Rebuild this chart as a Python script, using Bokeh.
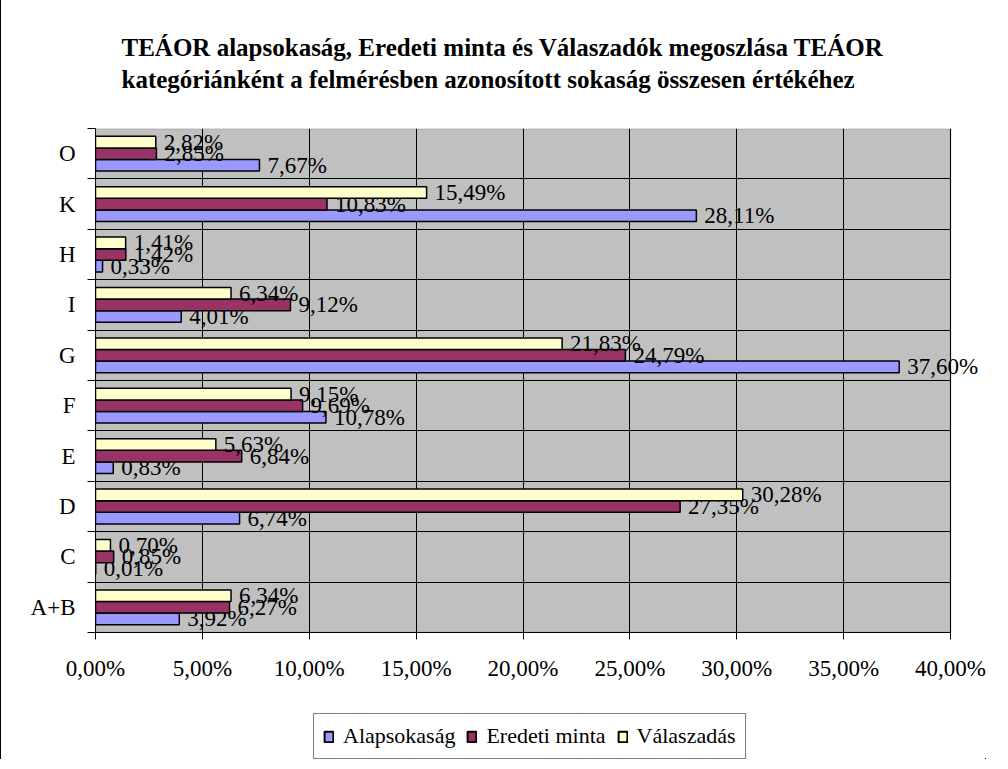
import numpy as np
from bokeh.plotting import figure
from bokeh.layouts import column
from bokeh.models import (ColumnDataSource, FixedTicker, Legend, LegendItem,
                          Title, Range1d, BoxAnnotation)
from bokeh.core.properties import value
from bokeh.embed import file_html
from bokeh.resources import INLINE

# ---------------- data ----------------
categories = ["A+B", "C", "D", "E", "F", "G", "I", "H", "K", "O"]
alapsokasag = [3.92, 0.01, 6.74, 0.83, 10.78, 37.60, 4.01, 0.33, 28.11, 7.67]
eredeti_minta = [6.27, 0.85, 27.35, 6.84, 9.69, 24.79, 9.12, 1.42, 10.83, 2.85]
valaszadas = [6.34, 0.70, 30.28, 5.63, 9.15, 21.83, 6.34, 1.41, 15.49, 2.82]
series_names = ["Alapsokaság", "Eredeti minta", "Válaszadás"]
x_ticks = [0, 5, 10, 15, 20, 25, 30, 35, 40]
x_tick_labels = ["0,00%", "5,00%", "10,00%", "15,00%", "20,00%",
                 "25,00%", "30,00%", "35,00%", "40,00%"]
title_text = ("TEÁOR alapsokaság, Eredeti minta és Válaszadók megoszlása  TEÁOR\n"
              "kategóriánként a felmérésben azonosított sokaság összesen értékéhez")

# ---------------- styling / layout ----------------
colors = ["#9999FF", "#993366", "#FFFFCC"]
offsets = [-0.23, 0.0, 0.23]
bar_h = 0.23
FONT = "Liberation Serif"

W, H1, H2 = 998, 710, 53
LEFT, RIGHT_BORDER, AXIS_PX = 94, 14, 855
frame_w = W - LEFT - RIGHT_BORDER
x_min, x_max = x_ticks[0], x_ticks[-1]
x_end = x_min + (x_max - x_min) * frame_w / AXIS_PX   # room for labels beyond 40 %

p = figure(width=W, height=H1, output_backend="svg", toolbar_location=None,
           x_range=Range1d(x_min, x_end),
           y_range=Range1d(-0.5, len(categories) - 0.5),
           min_border_left=LEFT, min_border_right=RIGHT_BORDER, min_border_top=128,
           min_border_bottom=75, background_fill_color="white",
           border_fill_color="white", outline_line_color=None)
p.styles = {"border-left": "1px solid black", "border-top": "1px solid black"}

# gray plot area 0..40 %
p.add_layout(BoxAnnotation(left=x_min, right=x_max, fill_color="#C0C0C0", fill_alpha=1,
                           line_color="#808080", line_width=2, level="image"))

title = Title(text=title_text, align="left", text_font=FONT, text_color="black",
              text_font_size="25px", text_font_style="bold", text_line_height=1.2,
              offset=26, standoff=70)
p.add_layout(title, "above")

# axes
n = len(categories)
ypos = np.arange(n)
p.yaxis.ticker = FixedTicker(ticks=list(ypos), minor_ticks=[i - 0.5 for i in range(n + 1)])
p.yaxis.major_label_overrides = {int(i): c for i, c in zip(ypos, categories)}
p.yaxis.major_tick_out = 0
p.yaxis.major_tick_in = 0
p.yaxis.minor_tick_out = 8
p.yaxis.minor_tick_in = 0
p.yaxis.minor_tick_line_color = "black"
p.yaxis.major_label_standoff = 12
p.yaxis.axis_line_color = "black"
p.yaxis.major_label_text_font = FONT
p.yaxis.major_label_text_font_size = "23px"
p.yaxis.major_label_text_color = "black"

p.xaxis.bounds = (x_min, x_max)
p.xaxis.ticker = FixedTicker(ticks=x_ticks)
p.xaxis.major_label_overrides = {t: l for t, l in zip(x_ticks, x_tick_labels)}
p.xaxis.major_tick_out = 7
p.xaxis.major_tick_in = 0
p.xaxis.minor_tick_line_color = None
p.xaxis.major_label_standoff = 16
p.xaxis.axis_line_color = "black"
p.xaxis.major_tick_line_color = "black"
p.xaxis.major_label_text_font = FONT
p.xaxis.major_label_text_font_size = "23px"
p.xaxis.major_label_text_color = "black"

p.xgrid.ticker = FixedTicker(ticks=x_ticks)
p.xgrid.grid_line_color = "black"
p.xgrid.grid_line_width = 1
p.ygrid.ticker = FixedTicker(ticks=[i - 0.5 for i in range(n)])
p.ygrid.cross_bounds = (x_min, x_max)
p.ygrid.grid_line_color = "black"
p.ygrid.grid_line_width = 1

# bars + labels
sources = []
for vals, col, off in zip([alapsokasag, eredeti_minta, valaszadas], colors, offsets):
    src = ColumnDataSource(dict(
        y=ypos + off, right=vals,
        label=[f"{v:.2f}".replace(".", ",") + "%" for v in vals]))
    sources.append(src)
    p.hbar(y="y", left=0, right="right", height=bar_h, source=src,
           fill_color=col, line_color="black", line_width=1.5)
    p.text(x="right", y="y", text="label", source=src, x_offset=8,
           text_baseline="middle", text_align="left",
           text_font=value(FONT), text_font_size=value("23px"),
           text_color="black")

# ---------------- legend strip ----------------
# same series placed entirely out of view (ranges beyond the data) only to feed the swatches
p2 = figure(width=W, height=H2, output_backend="svg", toolbar_location=None,
            x_range=Range1d(-2 * x_max, -x_max),
            y_range=Range1d(4 * n, 5 * n),
            x_axis_location=None, y_axis_location=None,
            min_border=0, min_border_left=0, min_border_right=0,
            min_border_top=0, min_border_bottom=0,
            outline_line_color=None, background_fill_color="white",
            border_fill_color="white")
p2.grid.visible = False
p2.styles = {"border-left": "1px solid black"}
legend_renderers = [p2.hbar(y="y", left=0, right="right", height=bar_h, source=src,
                            fill_color=col, line_color="black", line_width=2)
                    for src, col in zip(sources, colors)]
legend = Legend(items=[LegendItem(label=nm, renderers=[r])
                       for nm, r in zip(series_names, legend_renderers)],
                orientation="horizontal", location=(218, 0),
                label_text_font=FONT, label_text_font_size="22px",
                label_text_color="black",
                glyph_width=11, glyph_height=13, label_standoff=9,
                spacing=11, padding=9, margin=0,
                border_line_color="black", border_line_width=1,
                background_fill_color="white", background_fill_alpha=1)
p2.add_layout(legend, "center")

layout = column(p, p2, spacing=0)
layout.styles = {"margin-top": "-4px", "margin-bottom": "-8px"}
open("out.html", "w").write(file_html(layout, INLINE))
